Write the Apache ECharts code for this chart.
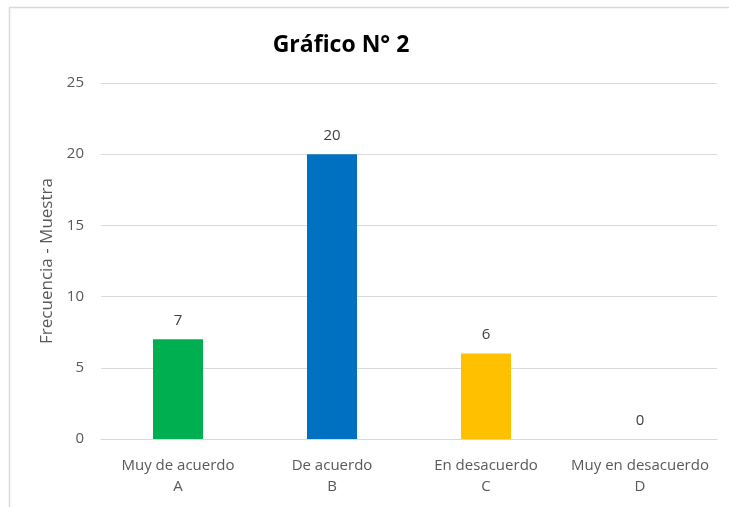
<!DOCTYPE html>
<html>
<head>
<meta charset="utf-8">
<script src="https://cdn.jsdelivr.net/npm/echarts@6/dist/echarts.min.js"></script>
<style>
  html, body { margin: 0; padding: 0; background: #fff; }
  #chart { width: 729px; height: 507px; }
</style>
</head>
<body>
<div id="chart"></div>
<script>
  // datos del gráfico
  const categorias = ['Muy de acuerdo\nA', 'De acuerdo\nB', 'En desacuerdo\nC', 'Muy en desacuerdo\nD'];
  const frecuencias = [7, 20, 6, 0];
  const colores = ['#00B050', '#0070C0', '#FFC000', '#A5A5A5'];

  const chart = echarts.init(document.getElementById('chart'));
  const font = 'Open Sans, Liberation Sans, sans-serif';

  const option = {
    animation: false,
    title: {
      text: 'Gráfico N° 2',
      left: 336,
      top: 29,
      textAlign: 'center',
      textStyle: { fontFamily: font, fontSize: 23, fontWeight: 'bold', color: '#000' }
    },
    graphic: [{
      type: 'rect',
      shape: { x: 9.5, y: 7.5, width: 800, height: 600 },
      style: { fill: 'none', stroke: '#d9d9d9', lineWidth: 1.5 },
      silent: true
    }],
    grid: { left: 101, right: 12, top: 83, bottom: 68 },
    xAxis: {
      type: 'category',
      data: categorias,
      axisLine: { lineStyle: { color: '#d9d9d9' } },
      axisTick: { show: false },
      axisLabel: { interval: 0, fontFamily: font, fontSize: 15, color: '#595959', lineHeight: 21, margin: 16 }
    },
    yAxis: {
      type: 'value',
      min: 0,
      max: 25,
      interval: 5,
      name: 'Frecuencia - Muestra',
      nameLocation: 'middle',
      nameGap: 44,
      nameTextStyle: { fontFamily: font, fontSize: 17, color: '#595959' },
      axisLine: { show: false },
      axisTick: { show: false },
      axisLabel: { fontFamily: font, fontSize: 15, color: '#595959', margin: 17 },
      splitLine: { lineStyle: { color: '#d9d9d9' } }
    },
    series: [{
      type: 'bar',
      barWidth: 50,
      data: frecuencias.map((v, i) => ({ value: v, itemStyle: { color: colores[i] } })),
      label: {
        show: true,
        position: 'top',
        distance: 11,
        fontFamily: font,
        fontSize: 15,
        color: '#404040'
      }
    }]
  };

  chart.setOption(option);
</script>
</body>
</html>
